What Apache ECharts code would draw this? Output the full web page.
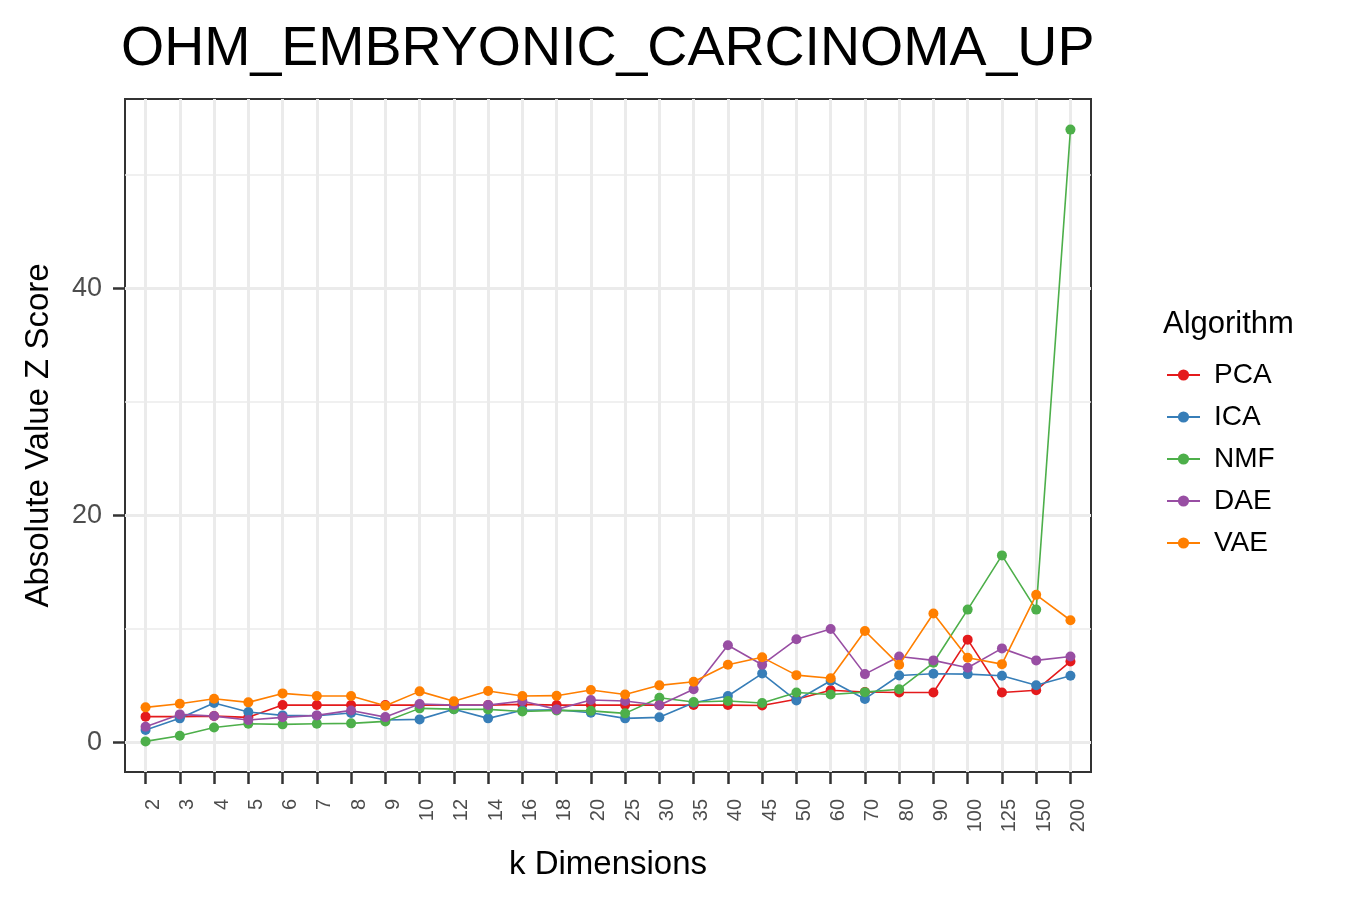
<!DOCTYPE html>
<html>
<head>
<meta charset="utf-8">
<script src="https://cdn.jsdelivr.net/npm/echarts@6/dist/echarts.min.js"></script>
<style>
html,body{margin:0;padding:0;background:#fff;}
#main{width:1350px;height:900px;}
</style>
</head>
<body>
<div id="main"></div>
<script>
var kDims = ['2','3','4','5','6','7','8','9','10','12','14','16','18','20','25','30','35','40','45','50','60','70','80','90','100','125','150','200'];
var pcaVals = [2.24,2.24,2.29,2.18,3.26,3.26,3.26,3.26,3.26,3.26,3.26,3.32,3.26,3.26,3.26,3.26,3.26,3.26,3.23,3.78,4.57,4.42,4.37,4.37,9.03,4.37,4.57,7.11];
var icaVals = [1.06,2.09,3.44,2.65,2.35,2.32,2.56,1.94,2.0,2.9,2.09,2.8,2.85,2.59,2.09,2.18,3.47,4.06,6.04,3.66,5.4,3.8,5.87,6.02,5.99,5.84,5.01,5.84];
var nmfVals = [0.06,0.56,1.29,1.62,1.56,1.62,1.65,1.82,2.97,2.9,2.88,2.7,2.79,2.75,2.53,3.91,3.53,3.62,3.45,4.37,4.19,4.4,4.66,6.99,11.68,16.46,11.68,54.0];
var daeVals = [1.35,2.44,2.29,1.94,2.18,2.35,2.79,2.2,3.35,3.26,3.26,3.62,2.88,3.71,3.62,3.24,4.65,8.53,6.82,9.06,9.97,5.99,7.55,7.2,6.55,8.26,7.2,7.55];
var vaeVals = [3.06,3.38,3.82,3.5,4.29,4.06,4.06,3.2,4.47,3.59,4.5,4.06,4.09,4.59,4.2,5.0,5.32,6.82,7.47,5.9,5.63,9.79,6.81,11.33,7.43,6.87,12.98,10.74];

var algoNames = ['PCA','ICA','NMF','DAE','VAE'];
var algoColors = ['#E41A1C','#377EB8','#4DAF4A','#984EA3','#FF7F00'];
var yMajor = [0,20,40];
var yMinor = [10,30,50];

var chart = echarts.init(document.getElementById('main'));

// x positions 1..n so the axis padding can match ggplot's expansion
var xIdx = kDims.map(function (d, i) { return i + 1; });

function buildSeries(name, vals, i) {
	return {
		name: name,
		type: 'line',
		data: vals.map(function (v, j) { return [j + 1, v]; }),
		symbol: 'circle',
		symbolSize: 10,
		lineStyle: { width: 1.6, color: algoColors[i] },
		itemStyle: { color: algoColors[i] },
		emphasis: { disabled: true },
		z: 3 + i
	};
}

var allVals = [pcaVals, icaVals, nmfVals, daeVals, vaeVals];
var seriesList = algoNames.map(function (n, i) { return buildSeries(n, allVals[i], i); });

var option = {
	backgroundColor: '#fff',
	animation: false,
	title: [{
		text: 'OHM_EMBRYONIC_CARCINOMA_UP',
		left: 116,
		top: 17,
		textStyle: { fontFamily: 'Liberation Sans', fontSize: 55.5, fontWeight: 'normal', color: '#000' }
	}, {
		text: 'Algorithm',
		left: 1158,
		top: 304,
		textStyle: { fontFamily: 'Liberation Sans', fontSize: 31, fontWeight: 'normal', color: '#000' }
	}],
	legend: {
		orient: 'vertical',
		left: 1161,
		top: 355,
		itemWidth: 33,
		itemHeight: 14,
		itemGap: 12,
		data: algoNames,
		textStyle: { fontFamily: 'Liberation Sans', fontSize: 28, lineHeight: 30, color: '#000', padding: [0, 0, 0, 9] }
	},
	grid: {
		left: 125,
		top: 99,
		right: 259,
		bottom: 128,
		show: true,
		backgroundColor: '#fff',
		borderColor: '#333',
		borderWidth: 2
	},
	xAxis: {
		type: 'value',
		min: 0.4,
		max: 28.6,
		name: 'k Dimensions',
		nameLocation: 'middle',
		nameGap: 76,
		nameTextStyle: { fontFamily: 'Liberation Sans', fontSize: 33, color: '#000' },
		axisLine: { show: false, onZero: false },
		axisTick: { show: true, length: 12, customValues: xIdx, lineStyle: { color: '#333', width: 2.5 } },
		axisLabel: {
			customValues: xIdx,
			rotate: 90,
			margin: 27,
			fontFamily: 'Liberation Sans',
			fontSize: 20,
			color: '#4D4D4D',
			verticalAlign: 'top',
			lineHeight: 16,
			formatter: function (v) { return kDims[Math.round(v) - 1]; }
		},
		splitLine: { show: true, lineStyle: { color: '#EBEBEB', width: 3 } }
	},
	yAxis: [{
		type: 'value',
		min: -2.64,
		max: 56.7,
		name: 'Absolute Value Z Score',
		nameLocation: 'middle',
		nameGap: 70,
		nameTextStyle: { fontFamily: 'Liberation Sans', fontSize: 33, color: '#000' },
		axisLine: { show: false, onZero: false },
		axisTick: { show: true, length: 12, customValues: yMajor, lineStyle: { color: '#333', width: 2.5 } },
		axisLabel: { customValues: yMajor, margin: 23, fontFamily: 'Liberation Sans', fontSize: 27, color: '#4D4D4D' },
		splitLine: { show: true, lineStyle: { color: '#EBEBEB', width: 3 } }
	}, {
		type: 'value',
		min: -2.64,
		max: 56.7,
		position: 'left',
		axisLine: { show: false, onZero: false },
		axisTick: { show: false, customValues: yMinor },
		axisLabel: { show: false },
		splitLine: { show: true, lineStyle: { color: '#EBEBEB', width: 1.5 } }
	}],
	series: seriesList
};

chart.setOption(option);
</script>
</body>
</html>
